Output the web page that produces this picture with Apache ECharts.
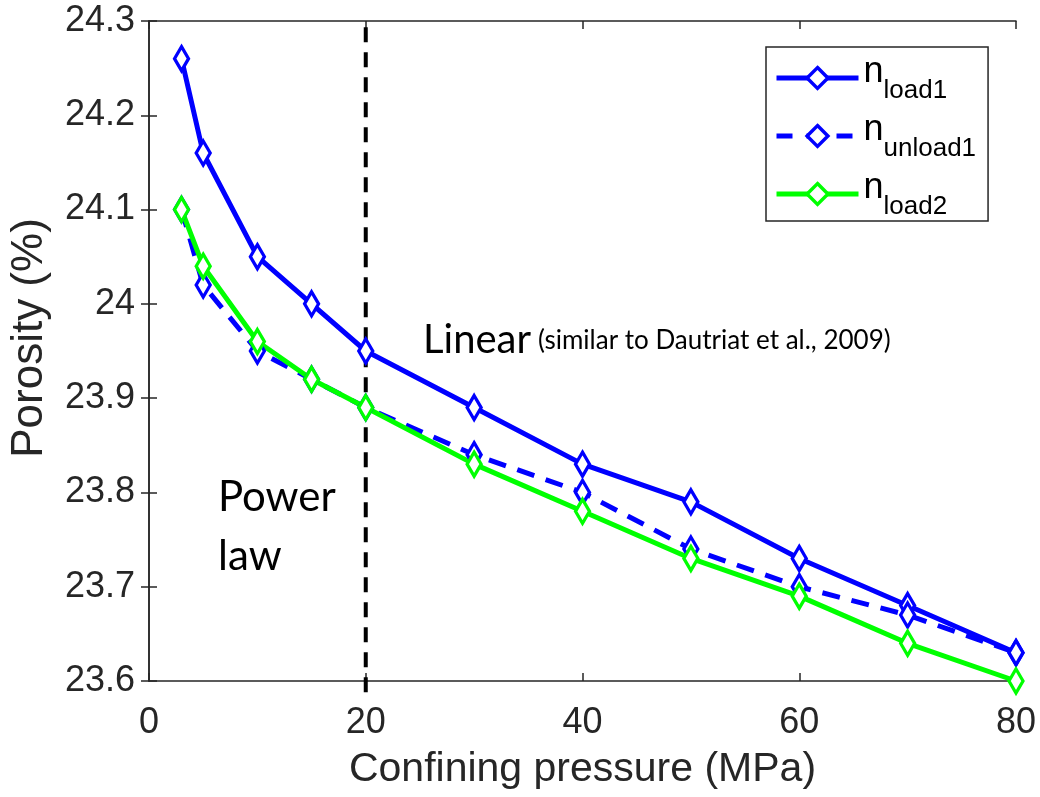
<!DOCTYPE html>
<html>
<head>
<meta charset="utf-8">
<script src="https://cdn.jsdelivr.net/npm/echarts@6/dist/echarts.min.js"></script>
<style>html,body{margin:0;padding:0;background:#fff;}#c{width:1040px;height:797px;}</style>
</head>
<body>
<div id="c"></div>
<script>
var pressure = [3, 5, 10, 15, 20, 30, 40, 50, 60, 70, 80];
var nLoad1   = [24.26, 24.16, 24.05, 24.00, 23.95, 23.89, 23.83, 23.79, 23.73, 23.68, 23.63];
var nUnload1 = [24.10, 24.02, 23.95, 23.92, 23.89, 23.84, 23.80, 23.74, 23.70, 23.67, 23.63];
var nLoad2   = [24.10, 24.04, 23.96, 23.92, 23.89, 23.83, 23.78, 23.73, 23.69, 23.64, 23.60];
var seriesNames = ['load1', 'unload1', 'load2'];
var boundaryX = 20;
var xTicks = [0, 20, 40, 60, 80];
var yTicks = [23.6, 23.7, 23.8, 23.9, 24.0, 24.1, 24.2, 24.3];

function pairs(xs, ys){ return xs.map(function(x,i){ return [x, ys[i]]; }); }

var axisColor = '#262626';
var font = 'Liberation Sans, Arial, sans-serif';
var calib = 'Lato, "Open Sans", sans-serif';
var chart = echarts.init(document.getElementById('c'), null, {renderer:'canvas'});

var colors = {load1: '#0000ff', unload1: '#0000ff', load2: '#00ff00'};
var dashed = {load1: false, unload1: true, load2: false};

function mk(name, data){
  var color = colors[name];
  return {
    name: name, type: 'line', data: data,
    symbol: 'diamond', symbolSize: [14, 24],
    lineStyle: {color: color, width: 5, type: dashed[name] ? [18, 12] : 'solid'},
    itemStyle: {color: '#ffffff', borderColor: color, borderWidth: 3.5},
    z: 3
  };
}

chart.setOption({
  animation: false,
  backgroundColor: '#ffffff',
  grid: {left: 149, top: 21, right: 24, bottom: 116, containLabel: false},
  xAxis: [{
    type: 'value', min: xTicks[0], max: xTicks[xTicks.length-1], interval: 20,
    name: 'Confining pressure (MPa)', nameLocation: 'middle', nameGap: 68,
    nameTextStyle: {fontFamily: font, fontSize: 41, color: axisColor},
    axisLine: {show: true, lineStyle: {color: axisColor, width: 1.5}},
    axisTick: {show: true, inside: true, length: 8, lineStyle: {color: axisColor, width: 1.5}},
    axisLabel: {fontFamily: font, fontSize: 36, color: axisColor, margin: 24},
    splitLine: {show: false}
  }, {
    type: 'value', position: 'top', min: xTicks[0], max: xTicks[xTicks.length-1], interval: 20,
    axisLine: {show: true, lineStyle: {color: axisColor, width: 1.5}},
    axisTick: {show: true, inside: true, length: 8, lineStyle: {color: axisColor, width: 1.5}},
    axisLabel: {show: false}, splitLine: {show: false}
  }],
  yAxis: [{
    type: 'value', min: yTicks[0], max: yTicks[yTicks.length-1], interval: 0.1,
    name: 'Porosity (%)', nameLocation: 'middle', nameGap: 97, nameRotate: 90,
    nameTextStyle: {fontFamily: font, fontSize: 44, color: axisColor, padding: [0, 0, 0, 26]},
    axisLine: {show: true, lineStyle: {color: axisColor, width: 1.5}},
    axisTick: {show: true, inside: true, length: 8, lineStyle: {color: axisColor, width: 1.5}},
    axisLabel: {fontFamily: font, fontSize: 36, color: axisColor, margin: 14,
      formatter: function(v){ return String(Number(v.toFixed(1))); }},
    splitLine: {show: false}
  }, {
    type: 'value', position: 'right', min: yTicks[0], max: yTicks[yTicks.length-1], interval: 0.1,
    axisLine: {show: true, lineStyle: {color: axisColor, width: 1.5}},
    axisTick: {show: true, inside: true, length: 8, lineStyle: {color: axisColor, width: 1.5}},
    axisLabel: {show: false}, splitLine: {show: false}
  }],
  legend: {
    left: 766, top: 47, orient: 'vertical',
    data: seriesNames.map(function(n){
      return {name: n,
        lineStyle: {color: colors[n], width: 5, type: dashed[n] ? [16, 14] : 'solid'},
        itemStyle: {color: '#ffffff', borderColor: colors[n], borderWidth: 3.5}};
    }),
    itemWidth: 82, itemHeight: 26, itemGap: 8,
    padding: [7, 12, 1, 8],
    backgroundColor: '#ffffff', borderColor: axisColor, borderWidth: 1.5, borderRadius: 0,
    formatter: function(name){ return '{n|n}{s|' + name + '}'; },
    textStyle: {
      fontFamily: font, color: '#000000',
      rich: {
        n: {fontSize: 36, fontFamily: font, color: '#000', padding: [0,0,12,0]},
        s: {fontSize: 26, fontFamily: font, color: '#000', padding: [26,0,0,0]}
      }
    }
  },
  graphic: [
    {type: 'text', left: 423, top: 320, style: {text: 'Linear', font: '40px ' + calib, fill: '#000'}},
    {type: 'text', left: 538, top: 328, style: {text: '(similar to Dautriat et al., 2009)', font: '26px ' + calib, fill: '#000'}},
    {type: 'text', left: 218, top: 476, style: {text: 'Power', font: '42px ' + calib, fill: '#000'}},
    {type: 'text', left: 218, top: 535, style: {text: 'law', font: '42px ' + calib, fill: '#000'}}
  ],
  series: [
    mk('load1', pairs(pressure, nLoad1)),
    mk('unload1', pairs(pressure, nUnload1)),
    mk('load2', pairs(pressure, nLoad2)),
    {
      name: 'boundary', type: 'line', data: [[boundaryX, 23.588], [boundaryX, 24.3]],
      symbol: 'none', clip: false, silent: true,
      lineStyle: {color: '#000', width: 4, type: [15, 10]}, z: 2
    }
  ]
});
</script>
</body>
</html>
